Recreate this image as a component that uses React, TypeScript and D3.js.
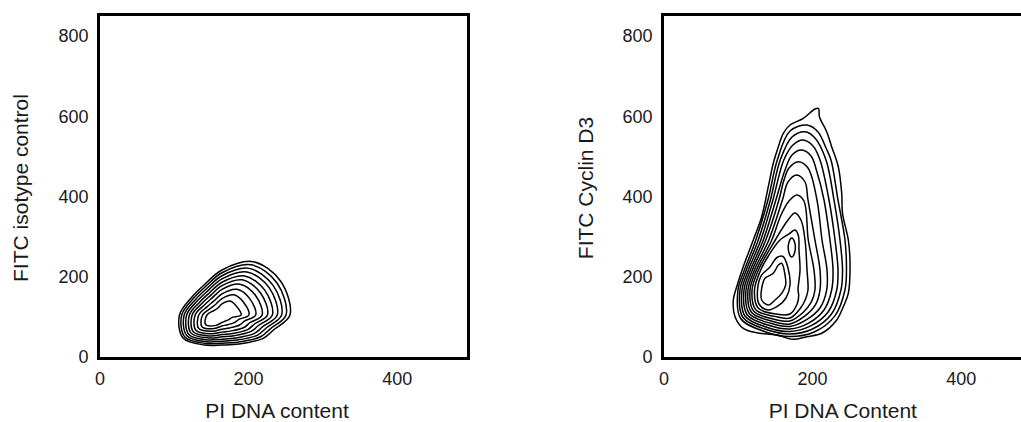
import React from 'react';
import * as d3 from 'd3';

// ---------- data ----------
const xTicks = [0, 200, 400];
const yTicks = [0, 200, 400, 600, 800];
const xDomain = [0, 498];
const yDomain = [0, 857];

const yTitles = ['FITC isotype control', 'FITC Cyclin D3'];
const xTitles = ['PI DNA content', 'PI DNA Content'];

type Pt = [number, number];

// Left panel: contour rings (PI DNA, FITC), inner -> outer
const leftRings: Pt[][] = [
  [[191.9,108.4],[186.0,129.5],[177.0,143.0],[166.2,135.8],[160.8,125.8],[155.5,119.6],[146.0,108.4],[144.0,84.7],[158.1,82.5],[166.2,89.9],[170.9,93.4],[176.2,97.7],[179.3,101.9]],
  [[202.4,108.4],[195.4,139.7],[181.9,158.7],[166.2,149.4],[157.9,135.2],[150.7,124.8],[140.1,108.4],[139.2,79.3],[155.7,74.7],[166.2,80.9],[173.8,84.2],[183.5,90.1],[188.4,97.1]],
  [[211.6,108.4],[203.7,148.6],[186.3,172.5],[166.2,161.2],[155.4,143.4],[146.4,129.3],[134.9,108.4],[134.9,74.6],[153.5,67.8],[166.2,73.0],[176.4,76.2],[189.9,83.5],[196.4,93.0]],
  [[220.2,108.4],[211.4,156.8],[190.3,185.2],[166.2,172.2],[153.0,151.0],[142.5,133.5],[130.1,108.4],[131.0,70.3],[151.6,61.5],[166.2,65.7],[178.7,68.8],[195.8,77.3],[203.8,89.1]],
  [[227.4,108.4],[217.9,163.8],[193.7,196.0],[166.2,181.5],[151.0,157.4],[139.1,137.1],[126.0,108.4],[127.6,66.6],[149.9,56.1],[166.2,59.5],[180.7,62.5],[200.8,72.1],[210.0,85.9]],
  [[234.0,108.4],[223.8,170.2],[196.8,205.8],[166.2,190.0],[149.2,163.3],[136.1,140.3],[122.3,108.4],[124.6,63.2],[148.4,51.2],[166.2,53.9],[182.5,56.7],[205.4,67.4],[215.7,82.9]],
  [[240.6,108.4],[229.7,176.6],[199.9,215.7],[166.2,198.5],[147.4,169.2],[133.1,143.6],[118.6,108.4],[121.6,59.8],[146.9,46.3],[166.2,48.2],[184.4,51.0],[209.9,62.6],[221.4,79.9]],
  [[246.5,108.4],[235.0,182.3],[202.6,224.5],[166.2,206.1],[145.8,174.4],[130.4,146.5],[115.3,108.4],[118.9,56.8],[145.5,41.9],[166.2,43.2],[186.0,45.8],[214.0,58.4],[226.5,77.2]],
  [[252.4,108.4],[240.3,188.0],[205.4,233.3],[166.2,213.7],[144.2,179.7],[127.6,149.4],[112.0,108.4],[116.1,53.8],[144.1,37.5],[166.2,38.1],[187.6,40.7],[218.2,54.1],[231.6,74.6]],
  [[257.7,108.4],[245.0,193.1],[207.9,241.2],[166.2,220.5],[142.7,184.4],[125.2,152.0],[109.0,108.4],[113.7,51.1],[142.9,33.6],[166.2,33.6],[189.1,36.1],[221.8,50.3],[236.2,72.2]],
];

// Right panel: contour rings, outer -> inner
const rightRings: Pt[][] = [
  [[210.0,622.8],[211.3,601.6],[221.0,565.0],[227.7,527.7],[236.6,477.8],[241.2,411.6],[242.3,361.7],[250.1,295.2],[252.4,237.2],[250.1,162.4],[243.3,129.0],[234.5,95.9],[214.3,62.8],[194.1,54.3],[176.0,47.8],[153.7,58.5],[126.8,64.3],[108.7,75.2],[97.6,104.1],[95.3,145.7],[99.9,178.9],[108.7,228.7],[122.2,295.2],[133.5,353.3],[142.4,428.0],[149.1,486.3],[155.9,527.7],[162.6,561.0],[171.6,581.7],[189.5,598.4],[205.2,621.6]],
  [[194.5,581.7],[209.3,564.3],[220.1,524.4],[226.8,494.5],[236.2,394.9],[245.6,295.2],[247.6,220.5],[245.6,170.7],[232.0,106.2],[204.2,66.1],[171.6,54.9],[139.0,66.1],[105.2,99.7],[101.6,170.7],[110.2,220.5],[125.6,295.2],[141.9,394.9],[154.5,494.5],[171.6,566.8]],
  [[191.8,565.0],[205.2,549.3],[220.1,494.5],[230.8,394.9],[238.9,295.2],[242.3,220.5],[240.2,170.7],[227.5,110.9],[201.9,73.6],[171.6,61.1],[140.6,71.5],[108.1,102.8],[104.3,170.7],[112.9,220.5],[128.9,295.2],[145.2,394.9],[158.5,494.5],[174.3,551.8]],
  [[189.1,544.3],[202.6,529.4],[212.0,494.5],[224.1,394.9],[232.2,295.2],[236.2,220.5],[234.5,170.7],[222.9,115.9],[199.5,81.2],[171.6,67.3],[142.3,76.8],[111.0,105.9],[107.0,170.7],[115.6,220.5],[132.3,295.2],[148.6,394.9],[163.3,494.5],[175.6,531.9]],
  [[187.3,519.4],[199.9,504.5],[207.9,464.6],[217.4,394.9],[225.4,295.2],[229.5,220.5],[227.7,170.7],[217.6,121.5],[197.2,88.7],[171.6,73.5],[144.0,82.2],[113.9,109.0],[109.7,170.7],[118.3,220.5],[135.7,295.2],[152.6,394.9],[164.9,469.6],[174.3,507.0]],
  [[182.8,490.3],[195.8,474.6],[207.9,394.9],[214.7,295.2],[221.4,220.5],[221.0,170.7],[212.4,127.1],[194.5,97.3],[171.6,79.8],[145.7,87.6],[116.8,112.2],[112.4,170.7],[121.0,220.5],[139.0,295.2],[156.7,394.9],[163.5,444.7],[170.3,474.6]],
  [[180.6,457.2],[191.8,439.7],[195.8,394.9],[205.2,295.2],[212.0,220.5],[212.0,170.7],[206.0,134.0],[191.8,106.0],[171.6,86.0],[147.4,93.0],[119.7,115.3],[115.1,170.7],[123.7,220.5],[143.1,295.2],[161.4,394.9],[168.9,439.7]],
  [[181.0,407.3],[190.4,392.4],[196.2,295.2],[203.9,220.5],[205.2,170.7],[200.2,140.2],[189.1,114.6],[171.6,93.5],[149.1,98.4],[122.6,118.4],[117.8,170.7],[126.4,220.5],[147.1,295.2],[159.5,357.5],[170.3,392.4]],
  [[178.3,362.5],[186.4,345.0],[191.8,295.2],[194.5,220.5],[195.8,170.7],[192.6,148.3],[185.7,125.4],[171.6,100.9],[151.1,104.9],[125.6,121.5],[120.5,170.7],[129.1,220.5],[151.8,295.2],[168.9,345.0]],
  [[178.3,320.1],[183.0,305.2],[183.7,270.3],[185.1,220.5],[182.4,170.7],[183.3,158.2],[181.7,138.3],[171.6,110.9],[153.0,110.9],[129.1,125.2],[123.8,170.7],[132.2,220.5],[143.3,257.9],[158.1,295.2],[170.3,310.2]],
  [[162.2,254.1],[168.9,225.5],[171.6,183.1],[166.2,150.7],[155.5,130.8],[142.0,120.8],[129.9,135.8],[127.9,170.7],[132.6,205.5],[144.7,228.0],[154.1,251.6]],
  [[133.5,174.9],[138.0,199.8],[149.1,212.3],[155.9,232.9],[160.4,237.2],[164.9,208.0],[165.8,183.1],[160.4,162.4],[151.4,145.7],[142.4,133.3],[133.5,145.7]],
  [[173.9,300.2],[177.7,290.2],[177.7,262.8],[173.9,252.9],[170.3,262.8],[170.3,290.2]],
];

const panelRings = [leftRings, rightRings];

// ---------- layout ----------
const W = 1021;
const H = 422;
const FRAME_TOP = 14.5;
const FRAME_BOTTOM = 358.5;
const FRAME_W = 370;
const FRAME_LEFTS = [98.5, 662.5];
const Y_TITLE_X = [20.5, 585];
const X_TITLE_X = [277, 842.8];
const FONT = "'Liberation Sans', Arial, Helvetica, sans-serif";

export default function App() {
  const y = d3.scaleLinear().domain(yDomain).range([FRAME_BOTTOM, FRAME_TOP]);

  return (
    <svg
      width={W}
      height={H}
      viewBox={`0 0 ${W} ${H}`}
      style={{ position: 'absolute', left: 0, top: 0, display: 'block', background: '#fff' }}
    >
      <rect x={0} y={0} width={W} height={H} fill="#fff" />
      {FRAME_LEFTS.map((x0, pi) => {
        const x = d3.scaleLinear().domain(xDomain).range([x0, x0 + FRAME_W]);
        const line = d3
          .line<Pt>()
          .x((d) => x(d[0]))
          .y((d) => y(d[1]))
          .curve(d3.curveCatmullRomClosed.alpha(0.5));
        const capC = 0.358 * 21;
        return (
          <g key={pi}>
            {panelRings[pi].map((ring, ri) => (
              <path key={ri} d={line(ring) || ''} fill="none" stroke="#000" strokeWidth={1.5} />
            ))}
            <rect
              x={x0}
              y={FRAME_TOP}
              width={FRAME_W}
              height={FRAME_BOTTOM - FRAME_TOP}
              fill="none"
              stroke="#000"
              strokeWidth={3}
            />
            {yTicks.map((t) => (
              <text
                key={'y' + t}
                x={x0 - 10}
                y={y(t) + 4.9}
                textAnchor="end"
                fontFamily={FONT}
                fontSize={18}
                fill="#1a1a1a"
              >
                {t}
              </text>
            ))}
            {xTicks.map((t) => (
              <text
                key={'x' + t}
                x={x(t) + 1.5}
                y={385.4}
                textAnchor="middle"
                fontFamily={FONT}
                fontSize={18}
                fill="#1a1a1a"
              >
                {t}
              </text>
            ))}
            <text
              x={X_TITLE_X[pi]}
              y={417.5}
              textAnchor="middle"
              fontFamily={FONT}
              fontSize={21}
              fill="#1a1a1a"
            >
              {xTitles[pi]}
            </text>
            <text
              transform={`translate(${Y_TITLE_X[pi] + capC},188) rotate(-90)`}
              textAnchor="middle"
              fontFamily={FONT}
              fontSize={21}
              fill="#1a1a1a"
            >
              {yTitles[pi]}
            </text>
          </g>
        );
      })}
    </svg>
  );
}
